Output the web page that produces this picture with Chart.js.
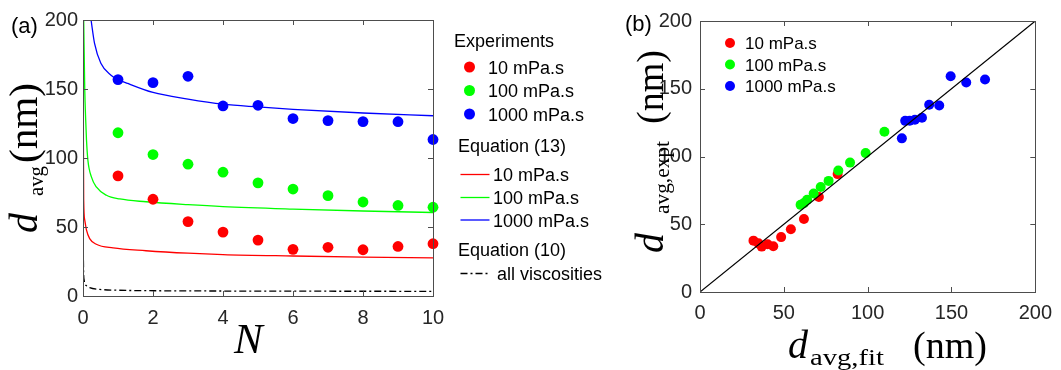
<!DOCTYPE html>
<html>
<head>
<meta charset="utf-8">
<script src="https://cdn.jsdelivr.net/npm/chart.js@4.4.1/dist/chart.umd.min.js"></script>
<style>
  body { margin: 0; background: #fff; width: 1061px; height: 370px; overflow: hidden; position: relative; }
  .panel { position: absolute; top: 0; height: 370px; }
</style>
</head>
<body>
<div class="panel" id="panelA" style="left:0;width:640px"><canvas id="chartA"></canvas></div>
<div class="panel" id="panelB" style="left:620px;width:441px"><canvas id="chartB"></canvas></div>

<script>
// ---------- data ----------
const N_EXP = [1, 2, 3, 4, 5, 6, 7, 8, 9, 10];
const EXP_10 = [87, 70.1, 53.9, 46.3, 40.5, 33.8, 35.3, 33.5, 35.9, 37.9];
const EXP_100 = [118.3, 102.5, 95.5, 89.7, 82, 77.5, 72.7, 68.1, 65.6, 64.3];
const EXP_1000 = [156.8, 154.6, 159.2, 137.7, 138.2, 128.6, 127.1, 126.4, 126.3, 113.4];

// Equation (13) curves
const EQ13_N_10 = [0.008, 0.012, 0.02, 0.05, 0.1, 0.19, 0.38, 0.86, 1.8, 3, 4, 6, 8, 10];
const EQ13_10 = [200, 110, 69.4, 55, 47.7, 41.6, 37.5, 34.8, 32.8, 31, 30, 29, 28.2, 27.6];
const EQ13_N_100 = [0.02, 0.05, 0.077, 0.1, 0.14, 0.24, 0.38, 0.67, 1.05, 1.8, 3, 4, 6, 8, 10];
const EQ13_100 = [200, 150, 127.5, 113, 98.4, 86.3, 79, 73, 70.3, 68.3, 66.2, 64.8, 63, 61.6, 60.5];
const EQ13_N_1000 = [0.23, 0.33, 0.51, 0.8, 1, 1.28, 2, 3, 4, 5, 6, 8, 10];
const EQ13_1000 = [200, 183, 168.6, 160, 157, 154, 147.5, 142.7, 139, 137, 135.3, 132.6, 130.6];

// Equation (10), all viscosities
const EQ10_N = [0.002, 0.01, 0.03, 0.05, 0.1, 0.19, 0.48, 1, 1.33, 3, 6, 10];
const EQ10 = [200, 30, 12, 9, 7.5, 6.1, 4.8, 4.2, 4.0, 3.7, 3.5, 3.4];

// panel (b): fitted diameters (x) against the measured ones (EXP_*)
const FIT_10 = [82.1, 70.9, 62.0, 54.2, 48.4, 43.7, 40.3, 36.8, 34.9, 31.9];
const FIT_100 = [110, 98.8, 89.5, 82.5, 76.7, 72.0, 67.8, 63.9, 62.0, 60.0];
const FIT_1000 = [170, 158.8, 149.5, 142.7, 136.7, 132.4, 128.2, 125.1, 122.4, 120.4];
const DIAG = [0, 200];

const TICKS_N = [0, 2, 4, 6, 8, 10];
const TICKS_D = [0, 50, 100, 150, 200];
const VISC_LABELS = ["10 mPa.s", "100 mPa.s", "1000 mPa.s"];

// ---------- styles ----------
const RED = "#ff0000", GREEN = "#00ff00", BLUE = "#0000ff";
const TICK_COLOR = "#262626";
const AXIS_COLOR = "#4d4d4d";
const SANS = '"Liberation Sans", Arial, sans-serif';
const SERIF = '"Liberation Serif", "Times New Roman", serif';
const DASHDOT = [7, 3, 2, 3];

const pts = (xs, ys) => xs.map((x, i) => ({ x, y: ys[i] }));

function textAt(ctx, text, font, x, y, w, rot) {
  ctx.save();
  ctx.font = font;
  ctx.translate(x, y);
  if (rot) ctx.rotate(-Math.PI / 2);
  if (w) ctx.scale(w / ctx.measureText(text).width, 1);
  ctx.fillText(text, 0, 0);
  ctx.restore();
}

// frame + inward ticks on all four sides
const boxTicks = {
  id: "boxTicks",
  afterDatasetsDraw(chart) {
    const { ctx, chartArea: a, scales: { x, y } } = chart;
    const r = (v) => Math.round(v) + 0.5;
    ctx.save();
    ctx.strokeStyle = AXIS_COLOR;
    ctx.lineWidth = 1;
    ctx.strokeRect(r(a.left), r(a.top), Math.round(a.right - a.left), Math.round(a.bottom - a.top));
    ctx.beginPath();
    x.ticks.forEach((t) => {
      const px = r(x.getPixelForValue(t.value));
      ctx.moveTo(px, a.bottom); ctx.lineTo(px, a.bottom - 5);
      ctx.moveTo(px, a.top); ctx.lineTo(px, a.top + 5);
    });
    y.ticks.forEach((t) => {
      const py = r(y.getPixelForValue(t.value));
      ctx.moveTo(a.left, py); ctx.lineTo(a.left + 5, py);
      ctx.moveTo(a.right, py); ctx.lineTo(a.right - 5, py);
    });
    ctx.stroke();
    ctx.restore();
  }
};

function axisCfg(min, max, step, tickVals, pad, fitSize, horizontal) {
  return {
    type: "linear", min, max,
    afterBuildTicks: (s) => { s.ticks = tickVals.map((v) => ({ value: v })); },
    afterFit: (s) => { if (horizontal) s.height = fitSize; else s.width = fitSize; },
    grid: { display: false, drawTicks: false },
    border: { display: false },
    ticks: { color: TICK_COLOR, padding: pad, font: { family: SANS, size: 20 }, maxRotation: 0 }
  };
}

// ---------- panel (a) ----------
const annotateA = {
  id: "annotateA",
  afterDraw(chart) {
    const ctx = chart.ctx;
    ctx.save();
    ctx.fillStyle = "#000";
    textAt(ctx, "(a)", "22px " + SANS, 11, 33);
    // y title: d_avg (nm)
    textAt(ctx, "d", "italic 40px " + SERIF, 37, 233, null, true);
    textAt(ctx, "avg", "21px " + SERIF, 43, 196, 30, true);
    textAt(ctx, "(nm)", "40px " + SERIF, 37, 163, 80, true);
    // x title
    textAt(ctx, "N", "italic 43px " + SERIF, 234, 353);

    // legend
    ctx.fillStyle = "#000";
    textAt(ctx, "Experiments", "18px " + SANS, 454, 47);
    const dotY = [67, 90.5, 114];
    [RED, GREEN, BLUE].forEach((c, i) => {
      ctx.fillStyle = c;
      ctx.beginPath(); ctx.arc(469.5, dotY[i], 5.5, 0, Math.PI * 2); ctx.fill();
      ctx.fillStyle = "#000";
      textAt(ctx, VISC_LABELS[i], "18px " + SANS, 488, dotY[i] + 6.5);
    });
    textAt(ctx, "Equation (13)", "18px " + SANS, 458, 151.5);
    const lineY = [174.5, 197.5, 220];
    [RED, GREEN, BLUE].forEach((c, i) => {
      ctx.strokeStyle = c; ctx.lineWidth = 1.3;
      ctx.beginPath(); ctx.moveTo(460.5, lineY[i]); ctx.lineTo(489.5, lineY[i]); ctx.stroke();
      ctx.fillStyle = "#000";
      textAt(ctx, VISC_LABELS[i], "18px " + SANS, 493, lineY[i] + 6.5);
    });
    textAt(ctx, "Equation (10)", "18px " + SANS, 458, 256);
    ctx.strokeStyle = "#000"; ctx.lineWidth = 1.3; ctx.setLineDash(DASHDOT);
    ctx.beginPath(); ctx.moveTo(460.5, 273.5); ctx.lineTo(490, 273.5); ctx.stroke();
    ctx.setLineDash([]);
    textAt(ctx, "all viscosities", "18px " + SANS, 497, 280);
    ctx.restore();
  }
};

const dotSet = (data, color, order) => ({
  data, backgroundColor: color, borderColor: color, borderWidth: 0,
  pointRadius: 5.4, pointHoverRadius: 5.4, showLine: false, clip: false, order
});
const curveSet = (data, color, order, dash) => ({
  data, borderColor: color, borderWidth: 1.3, borderDash: dash || [],
  pointRadius: 0, showLine: true, cubicInterpolationMode: "monotone", order
});

new Chart(document.getElementById("chartA"), {
  type: "scatter",
  data: {
    datasets: [
      dotSet(pts(N_EXP, EXP_10), RED, 1),
      dotSet(pts(N_EXP, EXP_100), GREEN, 1),
      dotSet(pts(N_EXP, EXP_1000), BLUE, 1),
      curveSet(pts(EQ13_N_10, EQ13_10), RED, 2),
      curveSet(pts(EQ13_N_100, EQ13_100), GREEN, 2),
      curveSet(pts(EQ13_N_1000, EQ13_1000), BLUE, 2),
      curveSet(pts(EQ10_N, EQ10), "#000", 2, DASHDOT)
    ]
  },
  options: {
    responsive: true, maintainAspectRatio: false, animation: false,
    layout: { padding: { left: 0, right: 207, top: 20, bottom: 0 } },
    plugins: { legend: { display: false }, tooltip: { enabled: false } },
    scales: {
      x: axisCfg(0, 10, 2, TICKS_N, 10, 74, true),
      y: axisCfg(0, 200, 50, TICKS_D, 5, 83, false)
    }
  },
  plugins: [boxTicks, annotateA]
});

// ---------- panel (b) ----------
const annotateB = {
  id: "annotateB",
  afterDraw(chart) {
    const ctx = chart.ctx;
    const ox = 620;
    ctx.save();
    ctx.fillStyle = "#000";
    textAt(ctx, "(b)", "22px " + SANS, 625 - ox, 31);
    // y title: d_avg,expt (nm)
    textAt(ctx, "d", "italic 40px " + SERIF, 663 - ox, 253, null, true);
    textAt(ctx, "avg,expt", "21px " + SERIF, 669 - ox, 214, 73, true);
    textAt(ctx, "(nm)", "38px " + SERIF, 663 - ox, 124, 74, true);
    // x title: d_avg,fit (nm)
    textAt(ctx, "d", "italic 40px " + SERIF, 788 - ox, 358);
    textAt(ctx, "avg,fit", "24px " + SERIF, 810 - ox, 365, 74);
    textAt(ctx, "(nm)", "38px " + SERIF, 913 - ox, 358, 74);

    // legend
    const dotY = [43, 64.5, 86];
    [RED, GREEN, BLUE].forEach((c, i) => {
      ctx.fillStyle = c;
      ctx.beginPath(); ctx.arc(730 - ox, dotY[i], 5, 0, Math.PI * 2); ctx.fill();
      ctx.fillStyle = "#000";
      textAt(ctx, VISC_LABELS[i], "17px " + SANS, 745 - ox, dotY[i] + 6);
    });
    ctx.restore();
  }
};

new Chart(document.getElementById("chartB"), {
  type: "scatter",
  data: {
    datasets: [
      curveSet(pts(DIAG, DIAG), "#000", 1),
      dotSet(pts(FIT_1000, EXP_1000), BLUE, 2),
      dotSet(pts(FIT_100, EXP_100), GREEN, 3),
      dotSet(pts(FIT_10, EXP_10), RED, 4)
    ].map((d) => Object.assign(d, d.showLine ? { cubicInterpolationMode: "default", borderWidth: 1.2 } : { pointRadius: 5, pointHoverRadius: 5 }))
  },
  options: {
    responsive: true, maintainAspectRatio: false, animation: false,
    layout: { padding: { left: 0, right: 17, top: 21, bottom: 0 } },
    plugins: { legend: { display: false }, tooltip: { enabled: false } },
    scales: {
      x: axisCfg(0, 200, 50, TICKS_D, 9, 78, true),
      y: axisCfg(0, 200, 50, TICKS_D, 8, 80, false)
    }
  },
  plugins: [boxTicks, annotateB]
});
</script>
</body>
</html>
